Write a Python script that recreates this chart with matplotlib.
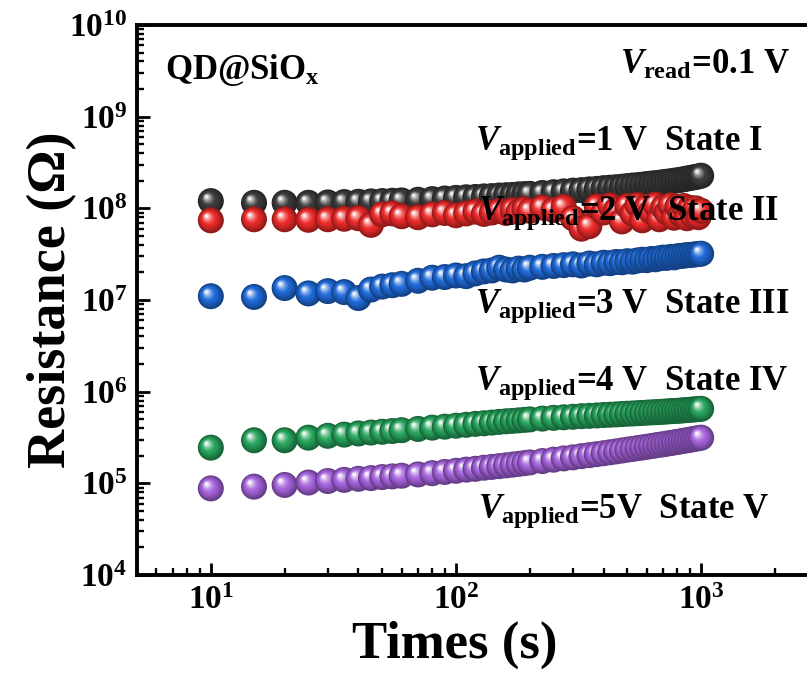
import numpy as np
import matplotlib
matplotlib.use("Agg")
import matplotlib.pyplot as plt
from matplotlib.ticker import LogLocator, NullFormatter, FixedLocator
from matplotlib.colors import to_rgb

plt.rcParams['font.family'] = ['Liberation Serif', 'DejaVu Serif']
plt.rcParams['font.weight'] = 'bold'
plt.rcParams['mathtext.fontset'] = 'custom'
plt.rcParams['mathtext.rm'] = 'Liberation Serif:bold'
plt.rcParams['mathtext.it'] = 'Liberation Serif:italic:bold'
plt.rcParams['mathtext.bf'] = 'Liberation Serif:bold'

# ---------------- data ----------------
times = [10, 15, 20, 25, 30, 35, 40, 45, 50, 55, 60, 70, 80, 90, 100, 110, 120, 130,
         140, 150, 160, 170, 180, 190, 200, 225, 250, 275, 300, 325, 350, 375, 400,
         425, 450, 475, 500, 525, 550, 575, 600, 625, 650, 675, 700, 725, 750, 775,
         800, 825, 850, 875, 900, 925, 950, 975, 1000]

state1 = [1.20e8, 1.15e8, 1.15e8, 1.15e8, 1.16e8, 1.17e8, 1.18e8, 1.19e8, 1.20e8, 1.21e8,
          1.22e8, 1.24e8, 1.26e8, 1.28e8, 1.30e8, 1.32e8, 1.33e8, 1.35e8, 1.36e8, 1.38e8,
          1.39e8, 1.40e8, 1.42e8, 1.43e8, 1.44e8, 1.47e8, 1.50e8, 1.53e8, 1.56e8, 1.58e8,
          1.61e8, 1.63e8, 1.66e8, 1.68e8, 1.70e8, 1.72e8, 1.75e8, 1.77e8, 1.79e8, 1.81e8,
          1.84e8, 1.86e8, 1.88e8, 1.90e8, 1.93e8, 1.95e8, 1.97e8, 2.00e8, 2.02e8, 2.05e8,
          2.08e8, 2.11e8, 2.14e8, 2.17e8, 2.20e8, 2.23e8, 2.27e8]

state2 = [7.4e7, 7.6e7, 7.6e7, 7.5e7, 7.6e7, 7.7e7, 7.8e7, 6.6e7, 8.6e7, 8.8e7,
          8.2e7, 8.0e7, 8.6e7, 8.9e7, 8.4e7, 8.8e7, 9.2e7, 8.7e7, 9.0e7, 9.4e7,
          8.9e7, 9.6e7, 9.1e7, 9.8e7, 9.4e7, 10.2e7, 9.6e7, 10.4e7, 7.8e7, 6.0e7,
          6.4e7, 10.5e7, 9.0e7, 10.8e7, 9.6e7, 7.2e7, 10.6e7, 8.8e7, 10.9e7, 7.4e7,
          10.4e7, 9.2e7, 11.0e7, 7.6e7, 10.2e7, 9.0e7, 10.8e7, 7.9e7, 10.4e7, 8.6e7,
          10.6e7, 7.8e7, 10.1e7, 8.3e7, 10.0e7, 8.0e7, 9.4e7]

state3 = [1.10e7, 1.08e7, 1.35e7, 1.18e7, 1.25e7, 1.22e7, 1.05e7, 1.30e7, 1.40e7, 1.45e7,
          1.50e7, 1.62e7, 1.75e7, 1.78e7, 1.85e7, 1.82e7, 1.95e7, 2.05e7, 2.10e7, 2.25e7,
          2.15e7, 2.10e7, 2.20e7, 2.15e7, 2.25e7, 2.30e7, 2.35e7, 2.40e7, 2.45e7, 2.38e7,
          2.50e7, 2.45e7, 2.55e7, 2.52e7, 2.60e7, 2.58e7, 2.65e7, 2.62e7, 2.70e7, 2.75e7,
          2.72e7, 2.80e7, 2.78e7, 2.85e7, 2.90e7, 2.88e7, 2.95e7, 2.92e7, 3.00e7, 3.02e7,
          3.05e7, 3.08e7, 3.10e7, 3.12e7, 3.15e7, 3.18e7, 3.20e7]

state4 = [2.45e5, 2.95e5, 2.95e5, 3.15e5, 3.30e5, 3.40e5, 3.50e5, 3.58e5, 3.65e5, 3.72e5,
          3.80e5, 3.92e5, 4.05e5, 4.15e5, 4.25e5, 4.35e5, 4.45e5, 4.52e5, 4.60e5, 4.68e5,
          4.75e5, 4.80e5, 4.86e5, 4.92e5, 4.98e5, 5.08e5, 5.18e5, 5.25e5, 5.32e5, 5.40e5,
          5.45e5, 5.50e5, 5.56e5, 5.60e5, 5.65e5, 5.70e5, 5.75e5, 5.78e5, 5.82e5, 5.86e5,
          5.90e5, 5.94e5, 5.97e5, 6.00e5, 6.04e5, 6.08e5, 6.12e5, 6.15e5, 6.18e5, 6.22e5,
          6.26e5, 6.30e5, 6.34e5, 6.38e5, 6.42e5, 6.46e5, 6.50e5]

state5 = [8.8e4, 9.2e4, 9.6e4, 10.2e4, 10.6e4, 10.9e4, 11.2e4, 11.4e4, 11.7e4, 11.9e4,
          12.1e4, 12.5e4, 12.9e4, 13.3e4, 13.7e4, 14.1e4, 14.4e4, 14.8e4, 15.1e4, 15.4e4,
          15.7e4, 16.0e4, 16.3e4, 16.6e4, 16.9e4, 17.5e4, 18.1e4, 18.7e4, 19.2e4, 19.8e4,
          20.3e4, 20.8e4, 21.3e4, 21.8e4, 22.3e4, 22.8e4, 23.3e4, 23.7e4, 24.2e4, 24.6e4,
          25.0e4, 25.5e4, 25.9e4, 26.3e4, 26.7e4, 27.1e4, 27.5e4, 27.9e4, 28.3e4, 28.7e4,
          29.1e4, 29.5e4, 29.9e4, 30.3e4, 30.7e4, 31.1e4, 31.5e4]

series = [state1, state2, state3, state4, state5]
colors = ['#3c3c3c', '#ec2a2a', '#1f6ad8', '#27a35c', '#a563dc']

x_major = [10, 100, 1000]
y_major = [1e4, 1e5, 1e6, 1e7, 1e8, 1e9, 1e10]

labels = [r'$V_{\rm applied}$=1 V  State I',
          r'$V_{\rm applied}$=2 V  State II',
          r'$V_{\rm applied}$=3 V  State III',
          r'$V_{\rm applied}$=4 V  State IV',
          r'$V_{\rm applied}$=5V  State V']
label_pos = [(0.496, 0.773), (0.500, 0.645), (0.496, 0.476), (0.496, 0.336), (0.500, 0.104)]

# ---------------- figure ----------------
fig = plt.figure(figsize=(8.07, 6.74), dpi=100)
ax = fig.add_axes([0.1698, 0.1469, 0.844, 0.816])
ax.set_xscale('log')
ax.set_yscale('log')
ax.set_xlim(5, 3000)
ax.set_ylim(1e4, 1e10)

R_px = 13.0          # sphere radius in pixels
n_layers = 9
px2pt = 72.0 / fig.dpi

def sphere_layers(base):
    base = np.array(to_rgb(base))
    out = []
    for k in range(n_layers):
        f = k / (n_layers - 1)
        r = R_px * (1 - 0.86 * f)
        off = np.array([-0.32 * R_px * f, 0.32 * R_px * f])
        shade = 0.62 + 0.38 * min(1.0, f / 0.45)
        c = base * shade
        if f > 0.5:
            w = ((f - 0.5) / 0.5) ** 1.3 * 0.9
            c = c * (1 - w) + np.ones(3) * w
        out.append((r, off, np.clip(c, 0, 1)))
    return out

for vals, col in zip(series, colors):
    layers = sphere_layers(col)
    disp = ax.transData.transform(np.column_stack([times, vals]))
    pts, sizes, cols = [], [], []
    for d in disp:
        for r, off, c in layers:
            pts.append(d + off)
            sizes.append((2 * r * px2pt) ** 2)
            cols.append(c)
    data_pts = ax.transData.inverted().transform(np.array(pts))
    ax.scatter(data_pts[:, 0], data_pts[:, 1], s=sizes, c=cols, linewidths=0, zorder=3)

# axes style
for sp in ['left', 'bottom', 'top', 'right']:
    ax.spines[sp].set_linewidth(2.8)
ax.tick_params(which='both', direction='in', top=False, right=False, width=2.0,
               labelsize=24, pad=7)
ax.tick_params(which='major', length=9)
ax.tick_params(which='minor', length=5, width=1.7)
ax.xaxis.set_major_locator(FixedLocator(x_major))
ax.xaxis.set_minor_locator(LogLocator(base=10, subs=np.arange(2, 10), numticks=20))
ax.yaxis.set_major_locator(FixedLocator(y_major))
ax.yaxis.set_minor_locator(LogLocator(base=10, subs=np.arange(2, 10), numticks=20))
ax.xaxis.set_minor_formatter(NullFormatter())
ax.yaxis.set_minor_formatter(NullFormatter())
ax.set_xlim(5, 3000)
ax.set_ylim(1e4, 1e10)

ax.set_xlabel('Times (s)', fontsize=38, fontweight='bold', va='center')
ax.set_ylabel('Resistance (Ω)', fontsize=39, fontweight='bold', va='center')
ax.xaxis.set_label_coords(0.467, -0.127)
ax.yaxis.set_label_coords(-0.125, 0.5)

ax.text(0.041, 0.918, r'QD@SiO$_{\rm x}$', transform=ax.transAxes, fontsize=25,
        ha='left', va='center', zorder=5)
ax.text(0.959, 0.927, r'$V_{\rm read}$=0.1 V', transform=ax.transAxes, fontsize=25,
        ha='right', va='center', zorder=5)
for lab, (lx, ly) in zip(labels, label_pos):
    ax.text(lx, ly, lab, transform=ax.transAxes, fontsize=25, ha='left',
            va='baseline', zorder=5)

fig.savefig('out.png', dpi=100)
